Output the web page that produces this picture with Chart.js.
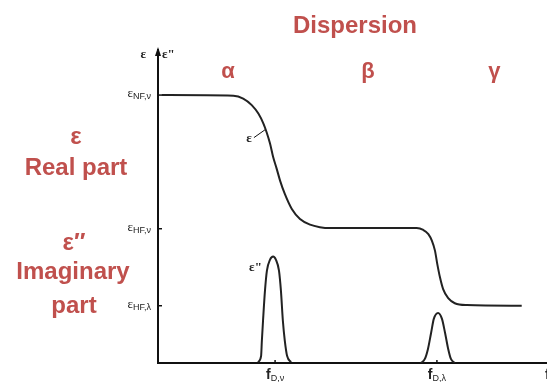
<!DOCTYPE html>
<html>
<head>
<meta charset="utf-8">
<script src="https://cdn.jsdelivr.net/npm/chart.js@4.4.1/dist/chart.umd.min.js"></script>
<style>
body { margin: 0; background: #fff; }
#wrap { width: 547px; height: 382px; }
</style>
</head>
<body>
<div id="wrap"><canvas id="dispChart" width="547" height="382"></canvas></div>
<script>
/* data (x = log frequency, y = permittivity, arbitrary units) */
const realX = [1, 19.4, 21.9, 24.1, 25.8, 27.1, 27.9, 28.8, 29.6, 30.5, 31.4, 32.6, 34.4, 36.5, 39.1, 41.6, 44.2,
    66.5, 68.2, 69.5, 70.4, 71.2, 71.8, 72.5, 73.3, 74.6, 76.3, 79.4, 93.5];
const realY = [85.6, 85.4, 84.5, 82.4, 79.7, 76.5, 73.8, 70.1, 65.8, 62.1, 58.2, 54.0, 49.2, 46.0, 44.2, 43.4, 43.1,
    43.1, 42.5, 41.2, 39.1, 35.9, 31.6, 27.3, 23.6, 20.7, 19.1, 18.5, 18.3];
const peak1X = [25.7, 26.5, 26.7, 27.0, 27.5, 28.0, 28.8, 29.6, 30.3, 31.1, 31.6, 32.1, 32.6, 33.2, 34.2];
const peak1Y = [0.3, 2.2, 7.1, 13.5, 23.1, 29.5, 33.0, 34.0, 33.0, 29.5, 23.1, 13.5, 7.1, 2.2, 0.3];
const peak2X = [67.6, 68.6, 69.4, 70.2, 70.9, 72.0, 73.0, 73.8, 74.6, 75.3, 76.3];
const peak2Y = [0, 1.3, 4.5, 9.6, 14.1, 16.0, 14.1, 9.6, 4.5, 1.3, 0];

const yTickValues = [85.6, 42.9, 18.3];
const yTickSubs = ['NF,ν', 'HF,ν', 'HF,λ'];
const xTickValues = [30.1, 71.7];
const xTickSubs = ['D,ν', 'D,λ'];
const regions = ['α', 'β', 'γ'];

const RED = '#c0504d';
const INK = '#222';

function pts(xs, ys) {
    return xs.map((x, i) => ({ x: x, y: ys[i] }))
}

// small "main + subscript" label
function subText(ctx, main, sub, x, y, mainFont, subFont, align) {
    ctx.font = mainFont;
    let wm = ctx.measureText(main).width;
    ctx.font = subFont;
    let ws = ctx.measureText(sub).width;
    let x0 = align === 'right' ? x - wm - ws : (align === 'center' ? x - (wm + ws) / 2 : x);
    ctx.textAlign = 'left';
    ctx.textBaseline = 'alphabetic';
    ctx.font = mainFont;
    ctx.fillText(main, x0, y);
    ctx.font = subFont;
    ctx.fillText(sub, x0 + wm, y + 2);
}

const decorations = {
    id: 'decorations',
    afterDraw(chart) {
        const ctx = chart.ctx, xs = chart.scales.x, ys = chart.scales.y;
        const ax = xs.left, ay = ys.bottom;
        ctx.save();

        // arrow at the top of the y axis
        ctx.fillStyle = '#111';
        ctx.beginPath();
        ctx.moveTo(ax, ys.top - 3);
        ctx.lineTo(ax - 3, ys.top + 6);
        ctx.lineTo(ax + 3, ys.top + 6);
        ctx.closePath();
        ctx.fill();

        // axis names
        ctx.fillStyle = INK;
        ctx.font = 'bold 13px "Liberation Serif"';
        ctx.textAlign = 'right';
        ctx.textBaseline = 'alphabetic';
        ctx.fillText('ε', ax - 12, ys.top + 8);
        ctx.textAlign = 'left';
        ctx.fillText('ε"', ax + 4, ys.top + 8);

        // y ticks
        ctx.strokeStyle = '#111';
        ctx.lineWidth = 1.5;
        yTickValues.forEach((v, i) => {
            const py = ys.getPixelForValue(v);
            ctx.beginPath();
            ctx.moveTo(ax, py);
            ctx.lineTo(ax + 4, py);
            ctx.stroke();
            ctx.fillStyle = INK;
            subText(ctx, 'ε', yTickSubs[i], ax - 7, py + 2, '13px "Liberation Serif"', '9px "Liberation Sans"', 'right');
        });

        // x ticks
        xTickValues.forEach((v, i) => {
            const px = xs.getPixelForValue(v);
            ctx.beginPath();
            ctx.moveTo(px, ay);
            ctx.lineTo(px, ay - 3);
            ctx.stroke();
            ctx.fillStyle = INK;
            subText(ctx, 'f', xTickSubs[i], px, ay + 16, 'bold 14px "Liberation Sans"', '9px "Liberation Sans"', 'center');
        });
        ctx.font = 'bold 14px "Liberation Sans"';
        ctx.textAlign = 'left';
        ctx.fillText('f', xs.right - 2, ay + 16);

        // curve labels
        ctx.font = 'bold 13px "Liberation Serif"';
        ctx.textAlign = 'right';
        let lx = xs.getPixelForValue(24.4), ly = ys.getPixelForValue(72);
        ctx.fillText('ε', lx - 1, ly + 4);
        ctx.beginPath();
        ctx.moveTo(lx + 1, ly);
        ctx.lineTo(xs.getPixelForValue(27.5), ys.getPixelForValue(74.5));
        ctx.lineWidth = 1;
        ctx.stroke();
        ctx.fillText('ε"', xs.getPixelForValue(26.7), ys.getPixelForValue(29.5));

        // red annotation text
        ctx.fillStyle = RED;
        ctx.textAlign = 'center';
        ctx.font = 'bold 24px "Liberation Sans"';
        ctx.fillText('Dispersion', 355, 33);
        ctx.font = 'bold 22px "Liberation Sans"';
        const regionX = [18, 54, 86.5];
        regions.forEach((r, i) => {
            ctx.fillText(r, xs.getPixelForValue(regionX[i]), 78);
        });
        ctx.font = 'bold 24px "Liberation Sans"';
        ctx.fillText('ε', 76, 144);
        ctx.fillText('Real part', 76, 175);
        ctx.fillText('ε′′', 74, 250);
        ctx.fillText('Imaginary', 73, 279);
        ctx.fillText('part', 74, 313);

        ctx.restore();
    }
};

const lineStyle = {
    borderColor: INK,
    borderWidth: 2,
    pointRadius: 0,
    fill: false,
    cubicInterpolationMode: 'monotone'
};

const ctx = document.getElementById('dispChart').getContext('2d');
const dispChart = new Chart(ctx, {
    type: 'line',
    data: {
        datasets: [
            Object.assign({ label: 'ε', data: pts(realX, realY) }, lineStyle),
            Object.assign({ label: 'ε" (1)', data: pts(peak1X, peak1Y) }, lineStyle),
            Object.assign({ label: 'ε" (2)', data: pts(peak2X, peak2Y) }, lineStyle)
        ]
    },
    options: {
        responsive: false,
        animation: false,
        devicePixelRatio: 1,
        layout: { padding: { left: 150, top: 50, right: 0, bottom: 11 } },
        plugins: {
            legend: { display: false },
            tooltip: { enabled: false }
        },
        scales: {
            x: {
                type: 'linear',
                min: 0,
                max: 100,
                ticks: { display: false },
                grid: { display: false },
                border: { color: '#111', width: 2 }
            },
            y: {
                type: 'linear',
                min: 0,
                max: 100,
                ticks: { display: false },
                grid: { display: false },
                border: { color: '#111', width: 2 }
            }
        }
    },
    plugins: [decorations]
})
</script>
</body>
</html>
